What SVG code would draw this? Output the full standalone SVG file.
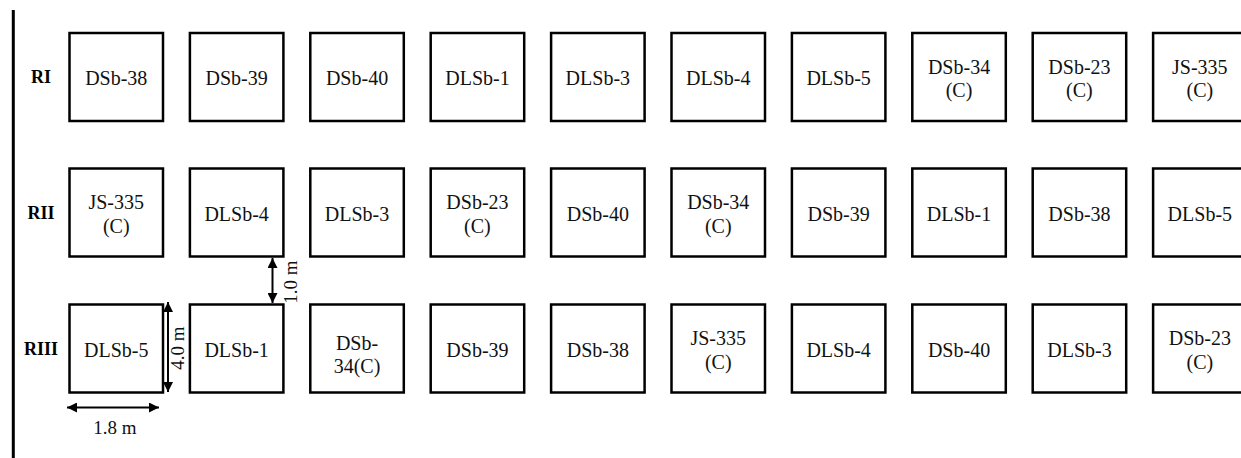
<svg xmlns="http://www.w3.org/2000/svg" width="1241" height="458" viewBox="0 0 1241 458">
<style>
.box{fill:#fff;stroke:#000;stroke-width:2.5}
.t{font-family:"Liberation Serif","Times New Roman",serif;font-size:20px;text-anchor:middle;fill:#111}
.lbl{font-family:"Liberation Serif","Times New Roman",serif;font-size:18px;font-weight:bold;text-anchor:middle;fill:#000}
.dim{font-family:"Liberation Serif","Times New Roman",serif;font-size:19px;text-anchor:middle;fill:#111}
.arr{stroke:#000;stroke-width:2;fill:none;marker-start:url(#ah);marker-end:url(#ah)}
</style>
<defs>
<marker id="ah" viewBox="0 0 10 10" refX="10" refY="5" markerWidth="10" markerHeight="10" markerUnits="userSpaceOnUse" orient="auto-start-reverse"><path d="M0,0 L10,5 L0,10 z" fill="#000"/></marker>
</defs>
<rect width="1241" height="458" fill="#fff"/>
<line x1="13.3" y1="10" x2="13.3" y2="458" stroke="#000" stroke-width="3"/>
<g id="row-labels">
<text class="lbl" x="41" y="83">RI</text>
<text class="lbl" x="41" y="218.5">RII</text>
<text class="lbl" x="41" y="354.5">RIII</text>
</g>
<!-- Row I -->
<g id="r1c1"><rect class="box" x="69.5" y="33" width="93.5" height="88"/><text class="t" x="116.25" y="85">DSb-38</text></g>
<g id="r1c2"><rect class="box" x="189.9" y="33" width="93.5" height="88"/><text class="t" x="236.65" y="85">DSb-39</text></g>
<g id="r1c3"><rect class="box" x="310.3" y="33" width="93.5" height="88"/><text class="t" x="357.05" y="85">DSb-40</text></g>
<g id="r1c4"><rect class="box" x="430.7" y="33" width="93.5" height="88"/><text class="t" x="477.45" y="85">DLSb-1</text></g>
<g id="r1c5"><rect class="box" x="551.1" y="33" width="93.5" height="88"/><text class="t" x="597.85" y="85">DLSb-3</text></g>
<g id="r1c6"><rect class="box" x="671.5" y="33" width="93.5" height="88"/><text class="t" x="718.25" y="85">DLSb-4</text></g>
<g id="r1c7"><rect class="box" x="791.9" y="33" width="93.5" height="88"/><text class="t" x="838.65" y="85">DLSb-5</text></g>
<g id="r1c8"><rect class="box" x="912.3" y="33" width="93.5" height="88"/><text class="t" x="959.05" y="73.5">DSb-34<tspan x="959.05" dy="23.5">(C)</tspan></text></g>
<g id="r1c9"><rect class="box" x="1032.7" y="33" width="93.5" height="88"/><text class="t" x="1079.45" y="73.5">DSb-23<tspan x="1079.45" dy="23.5">(C)</tspan></text></g>
<g id="r1c10"><rect class="box" x="1153.1" y="33" width="93.5" height="88"/><text class="t" x="1199.85" y="73.5">JS-335<tspan x="1199.85" dy="23.5">(C)</tspan></text></g>
<!-- Row II -->
<g id="r2c1"><rect class="box" x="69.5" y="168.5" width="93.5" height="88"/><text class="t" x="116.25" y="209">JS-335<tspan x="116.25" dy="23.5">(C)</tspan></text></g>
<g id="r2c2"><rect class="box" x="189.9" y="168.5" width="93.5" height="88"/><text class="t" x="236.65" y="220.5">DLSb-4</text></g>
<g id="r2c3"><rect class="box" x="310.3" y="168.5" width="93.5" height="88"/><text class="t" x="357.05" y="220.5">DLSb-3</text></g>
<g id="r2c4"><rect class="box" x="430.7" y="168.5" width="93.5" height="88"/><text class="t" x="477.45" y="209">DSb-23<tspan x="477.45" dy="23.5">(C)</tspan></text></g>
<g id="r2c5"><rect class="box" x="551.1" y="168.5" width="93.5" height="88"/><text class="t" x="597.85" y="220.5">DSb-40</text></g>
<g id="r2c6"><rect class="box" x="671.5" y="168.5" width="93.5" height="88"/><text class="t" x="718.25" y="209">DSb-34<tspan x="718.25" dy="23.5">(C)</tspan></text></g>
<g id="r2c7"><rect class="box" x="791.9" y="168.5" width="93.5" height="88"/><text class="t" x="838.65" y="220.5">DSb-39</text></g>
<g id="r2c8"><rect class="box" x="912.3" y="168.5" width="93.5" height="88"/><text class="t" x="959.05" y="220.5">DLSb-1</text></g>
<g id="r2c9"><rect class="box" x="1032.7" y="168.5" width="93.5" height="88"/><text class="t" x="1079.45" y="220.5">DSb-38</text></g>
<g id="r2c10"><rect class="box" x="1153.1" y="168.5" width="93.5" height="88"/><text class="t" x="1199.85" y="220.5">DLSb-5</text></g>
<!-- Row III -->
<g id="r3c1"><rect class="box" x="69.5" y="304.5" width="93.5" height="88"/><text class="t" x="116.25" y="356.5">DLSb-5</text></g>
<g id="r3c2"><rect class="box" x="189.9" y="304.5" width="93.5" height="88"/><text class="t" x="236.65" y="356.5">DLSb-1</text></g>
<g id="r3c3"><rect class="box" x="310.3" y="304.5" width="93.5" height="88"/><text class="t" x="357.05" y="350">DSb-<tspan x="357.05" dy="23">34(C)</tspan></text></g>
<g id="r3c4"><rect class="box" x="430.7" y="304.5" width="93.5" height="88"/><text class="t" x="477.45" y="356.5">DSb-39</text></g>
<g id="r3c5"><rect class="box" x="551.1" y="304.5" width="93.5" height="88"/><text class="t" x="597.85" y="356.5">DSb-38</text></g>
<g id="r3c6"><rect class="box" x="671.5" y="304.5" width="93.5" height="88"/><text class="t" x="718.25" y="345">JS-335<tspan x="718.25" dy="23.5">(C)</tspan></text></g>
<g id="r3c7"><rect class="box" x="791.9" y="304.5" width="93.5" height="88"/><text class="t" x="838.65" y="356.5">DLSb-4</text></g>
<g id="r3c8"><rect class="box" x="912.3" y="304.5" width="93.5" height="88"/><text class="t" x="959.05" y="356.5">DSb-40</text></g>
<g id="r3c9"><rect class="box" x="1032.7" y="304.5" width="93.5" height="88"/><text class="t" x="1079.45" y="356.5">DLSb-3</text></g>
<g id="r3c10"><rect class="box" x="1153.1" y="304.5" width="93.5" height="88"/><text class="t" x="1199.85" y="345">DSb-23<tspan x="1199.85" dy="23.5">(C)</tspan></text></g>
<!-- Dimension connectors -->
<g id="connectors">
<line class="arr" x1="272.5" y1="258" x2="272.5" y2="303"/>
<line class="arr" x1="168" y1="302" x2="168" y2="392"/>
<line class="arr" x1="67" y1="407.5" x2="159" y2="407.5"/>
<text class="dim" transform="translate(297,282) rotate(-90)">1.0 m</text>
<text class="dim" transform="translate(184,348) rotate(-90)">4.0 m</text>
<text class="dim" x="115" y="434">1.8 m</text>
</g>
</svg>
